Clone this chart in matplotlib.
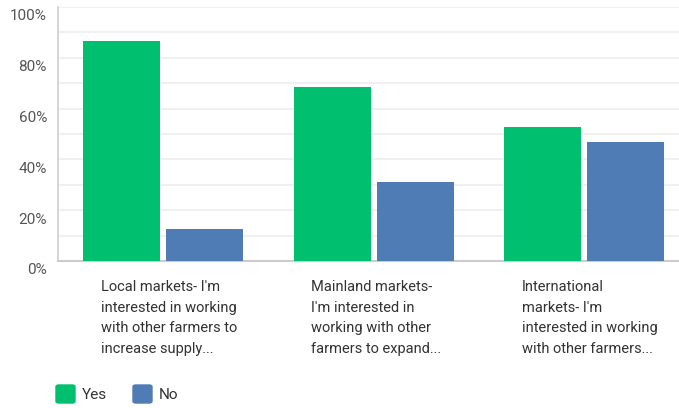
import numpy as np
import matplotlib.pyplot as plt
import matplotlib.transforms as mtransforms
from matplotlib.patches import FancyBboxPatch

# survey answers, share of respondents (%)
categories = ["Local markets- I'm\ninterested in working\nwith other farmers to\nincrease supply...",
              "Mainland markets-\nI'm interested in\nworking with other\nfarmers to expand...",
              "International\nmarkets- I'm\ninterested in working\nwith other farmers..."]
yes_vals = [86.7, 68.4, 52.6]
no_vals = [12.6, 31.2, 46.9]
yticks = [0, 20, 40, 60, 80, 100]

green = '#00BF6F'
blue = '#507CB6'

plt.rcParams['font.family'] = ['Roboto', 'DejaVu Sans']

fig = plt.figure(figsize=(6.79, 4.08), dpi=100)
ax = fig.add_axes([58/679, 147/408, 631.5/679, 254/408])

x = np.arange(len(categories))
w = 0.366
ax.bar(x - 0.197, yes_vals, w, color=green, zorder=3)
ax.bar(x + 0.197, no_vals, w, color=blue, zorder=3)

ax.set_xlim(-0.5, 2.5)
ax.set_ylim(0, 100)

# light gridlines every 10%
for g in range(10, 101, 10):
    ax.axhline(g, color='#f0f0f0', lw=1.5, zorder=1)

for s in ['top', 'right']:
    ax.spines[s].set_visible(False)
ax.spines['left'].set_color('#d0d0d0')
ax.spines['bottom'].set_color('#cccccc')
ax.spines['left'].set_linewidth(1.2)
ax.spines['bottom'].set_linewidth(1.5)

ax.set_xticks([])
ax.set_yticks(yticks)
ax.set_yticklabels([f'{v}%' for v in yticks], fontsize=11, color='#555555')
ax.tick_params(axis='y', length=0, pad=8)
off = mtransforms.ScaledTranslation(0, -8/100, fig.dpi_scale_trans)
for lab in ax.get_yticklabels():
    lab.set_transform(lab.get_transform() + off)

trans = mtransforms.blended_transform_factory(ax.transData, ax.transAxes)
for i, cat in enumerate(categories):
    ax.text(i - 0.298, -19/254, cat, transform=trans, ha='left', va='top',
            fontsize=10.5, color='#333333', linespacing=1.6)

# legend
for lx, col, lab in [(56, green, 'Yes'), (133, blue, 'No')]:
    fig.patches.append(FancyBboxPatch((lx/679, 5/408), 19/679, 18/408,
                                      boxstyle='round,pad=0,rounding_size=0.004',
                                      color=col, transform=fig.transFigure, figure=fig))
    fig.text((lx + 26)/679, 13/408, lab, fontsize=11, color='#333333', va='center')

fig.savefig('out.png', dpi=100)
